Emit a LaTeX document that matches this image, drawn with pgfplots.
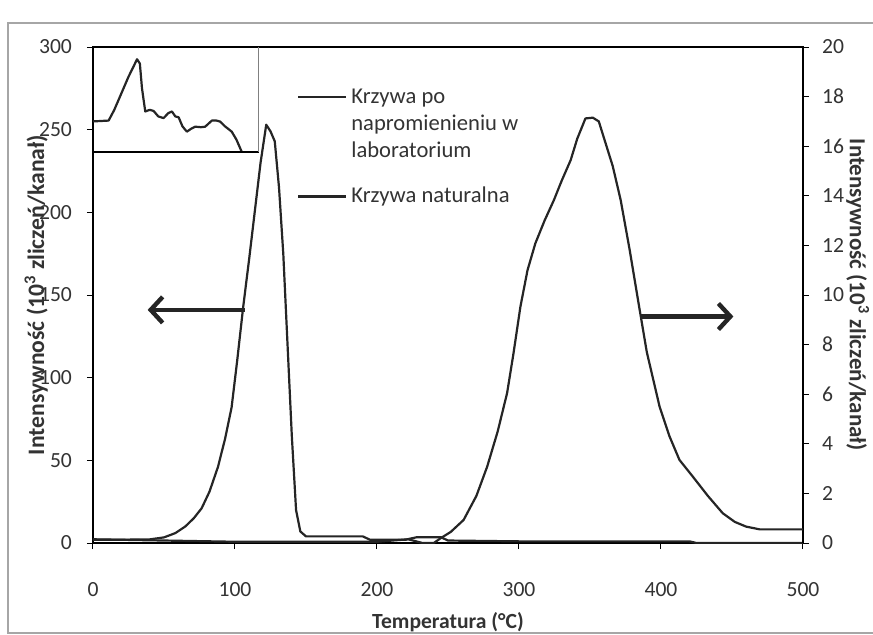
\documentclass[border=0pt]{standalone}
\usepackage{fontspec}
\setmainfont{Carlito}
\usepackage{pgfplots}
\pgfplotsset{compat=1.18}
\usetikzlibrary{arrows.meta}
\definecolor{ink}{HTML}{252525}
\definecolor{txt}{HTML}{333333}
\pgfplotsset{
  common/.style={
    scale only axis, width=355pt, height=248pt,
    xmin=0, xmax=500,
    tick align=outside, major tick length=3pt,
    every tick/.style={black, line width=0.5pt},
    /pgf/number format/assume math mode=true,
    tick label style={font=\fontsize{10.8}{13}\selectfont, text=txt},
    axis line style={line width=0.8pt, black},
    label style={font=\fontsize{10.8}{13}\selectfont\bfseries, text=txt},
  },
  labimg/.style={legend image code/.code={\path[draw=none] (0pt,-13.5pt) -- (24pt,-13.5pt); \draw[##1, line width=1.1pt] (0pt,13.5pt) -- (24pt,13.5pt);}},
  natimg/.style={legend image code/.code={\draw[##1, line width=1.1pt] (0pt,0pt) -- (24pt,0pt);}},
  curve/.style={ink, line width=1.1pt, line join=round},
}

\begin{document}
\begin{tikzpicture}
% frame
\draw[gray!70, line width=0.6pt] (-42.5pt,-45pt) rectangle (400pt,260pt);

\begin{axis}[common, name=main,
  ymin=0, ymax=300, ytick={0,50,...,300}, xtick={0,100,...,500},
  xtick pos=bottom, ytick pos=left,
  xticklabel style={yshift=-13pt},
  yticklabel style={xshift=-4pt},
  xlabel={Temperatura (°C)},
  xlabel style={at={(axis description cs:0.5,0)}, anchor=center, yshift=-39.5pt},
  ylabel={Intensywność (10\textsuperscript{3} zliczeń/kanał)},
  ylabel style={at={(axis description cs:-0.08,0.5)}, anchor=center, font=\fontsize{11.8}{14}\selectfont\bfseries},
  legend style={at={(rel axis cs:0.287,0.925)}, anchor=north west, draw=none, fill=none,
    font=\fontsize{11.3}{13.5}\selectfont, text=txt, inner sep=0pt, row sep=9.5pt,
    nodes={align=left, inner sep=2pt}},
  legend cell align=left,
]
% laboratory-irradiated curve (left axis)
\addplot[curve, labimg] coordinates {
(0,2) (20,2) (40,2.2) (50,3.4) (58,6) (65,10) (71,15) (76.5,21) (82,31) (88,46)
(93,63) (97.6,82) (101.5,110) (105.8,143) (110,172) (114,201) (118,230) (122,253)
(125,249) (128,243) (131,215) (134,175) (137,120) (140,65) (143,20) (146,7) (150,4)
(190,4) (195,2) (220,2) (228,3.5) (245,3.5) (250,1.5) (300,1) (420,1) (425,0) (500,0)
};
\addlegendentry{Krzywa po\\napromienieniu w\\laboratorium}
\addlegendimage{curve, natimg}
\addlegendentry{Krzywa naturalna}
% inset
\addplot[curve, forget plot] coordinates {
(0,255) (11,255.5) (15,262) (20,272) (25,282) (29,289) (31,292.6) (33,290) (34.5,275)
(36.8,261) (40,262) (42.7,261.3) (46,258) (49.7,257) (53,260) (55.6,261) (58,258)
(60.3,257.5) (63,252) (66.1,248.8) (69,250.5) (72,251.8) (76,251.5) (79,251.8)
(83.7,255.5) (87,255.5) (89.5,254.9) (93,252) (97.7,248.8) (101,244) (104.8,236.5)
};
\draw[black, line width=0.8pt] (axis cs:0,236.5) -- (axis cs:116.6,236.5);
\draw[gray, line width=0.5pt] (axis cs:116.6,236.5) -- (axis cs:116.6,300);
% arrows
\draw[ink, line width=2.2pt, -{Straight Barb[length=6pt,width=13pt]}] (axis cs:107,141) -- (axis cs:38.5,141);
\draw[ink, line width=2.2pt, -{Straight Barb[length=6pt,width=13pt]}] (axis cs:386,137) -- (axis cs:451,137);
\end{axis}

\begin{axis}[common,
  axis x line=none, axis y line*=right,
  ymin=0, ymax=20, ytick={0,2,...,20},
  yticklabel style={xshift=3pt},
  ylabel={Intensywność (10\textsuperscript{3} zliczeń/kanał)},
  ylabel style={at={(axis description cs:1.077,0.5)}, anchor=center, rotate=180, font=\fontsize{11.5}{14}\selectfont\bfseries},
]
% natural curve (right axis)
\addplot[curve] coordinates {
(0,0.15) (50,0.1) (100,0.05) (150,0.05) (200,0.05) (222,0.15) (232,0) (240,0) (245,0.2)
(252,0.45) (261,0.93) (270,1.9) (277.6,3.08) (285,4.5) (291.6,6.04) (296,7.6) (301,9.53)
(306,11.0) (311.5,12.08) (318,13.0) (324.6,13.83) (330,14.6) (336.4,15.44) (341,16.3)
(346.8,17.12) (352,17.15) (356.2,17.0) (360,16.3) (366,15.2) (371.6,13.83) (378,11.8)
(384.6,9.53) (390,7.7) (399,5.5) (406,4.3) (413,3.35) (422.5,2.67) (433,1.9) (443.5,1.2)
(452,0.85) (460,0.66) (469.5,0.55) (500,0.55)
};
\end{axis}
\pgfresetboundingbox
\path[use as bounding box] (-46.5pt,-45.5pt) rectangle (390pt,271.5pt);
\end{tikzpicture}
\end{document}
